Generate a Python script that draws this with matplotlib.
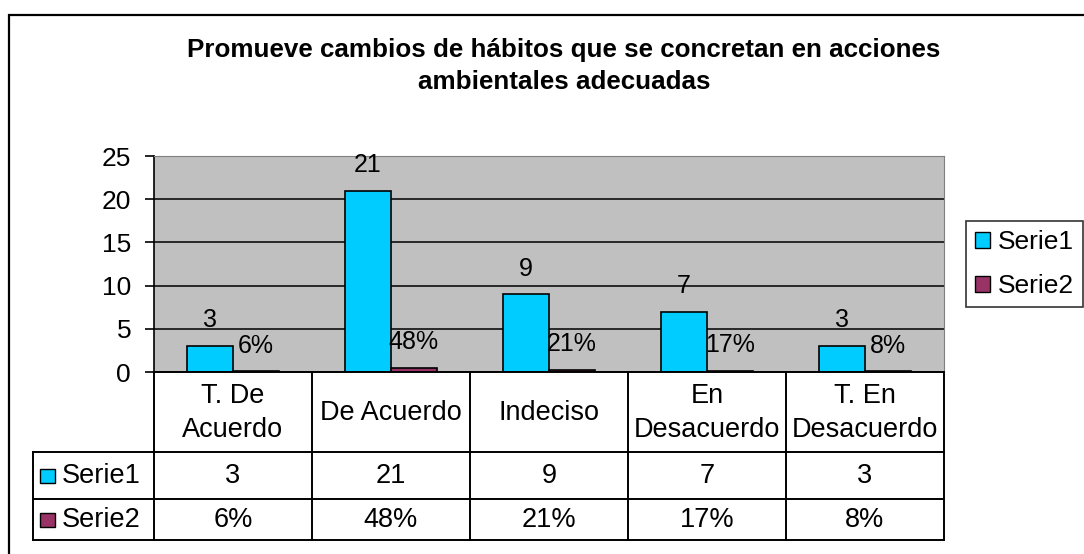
import matplotlib
matplotlib.use("Agg")
import matplotlib.pyplot as plt
from matplotlib.patches import Patch, Rectangle
import numpy as np

# datos del grafico
categorias = ["T. De\nAcuerdo", "De Acuerdo", "Indeciso", "En\nDesacuerdo", "T. En\nDesacuerdo"]
serie1 = [3, 21, 9, 7, 3]
serie2 = [0.06, 0.48, 0.21, 0.17, 0.08]
nombres = ["Serie1", "Serie2"]
yticks = [0, 5, 10, 15, 20, 25]
titulo = "Promueve cambios de hábitos que se concretan en acciones\nambientales adecuadas"

color1 = "#00CCFF"
color2 = "#993366"

W, H = 1084, 554
plt.rcParams['font.family'] = ['Liberation Sans', 'DejaVu Sans']

fig = plt.figure(figsize=(W / 100, H / 100), dpi=100)

# marco exterior del grafico
fig.patches.append(Rectangle((9 / W, -0.05), 1.1, 1 - 15 / H + 0.05, transform=fig.transFigure,
                             fill=False, edgecolor="black", linewidth=1.6))

# area de trazado (pixeles: x 154-944, y 156-372)
ax = fig.add_axes([154 / W, (H - 372) / H, 790 / W, 216 / H])
ax.set_facecolor("#C0C0C0")

x = np.arange(len(categorias))
ancho = 0.29
ax.bar(x - ancho / 2, serie1, ancho, color=color1, edgecolor="black", linewidth=1.2, zorder=3)
ax.bar(x + ancho / 2, serie2, ancho, color=color2, edgecolor="black", linewidth=1.2, zorder=3)

ax.set_xlim(-0.5, len(categorias) - 0.5)
ax.set_ylim(0, 25)
ax.set_yticks(yticks)
ax.tick_params(axis="y", labelsize=19, length=6.5, width=1.2, pad=10, direction="out")
ax.set_xticks([])
ax.grid(axis="y", color="black", linewidth=1.1, zorder=1)
ax.spines["top"].set_color("#808080")
ax.spines["right"].set_color("#808080")
ax.spines["left"].set_linewidth(1.2)
ax.spines["bottom"].set_linewidth(1.4)
ax.spines["bottom"].set_zorder(4)

# etiquetas de datos
for xi, v in zip(x, serie1):
    ax.annotate(str(v), (xi - ancho / 2, v), xytext=(0, 18.5), textcoords="offset points",
                ha="center", va="center", fontsize=18)
for xi, v in zip(x, serie2):
    ax.annotate(f"{v:.0%}", (xi + ancho / 2, v), xytext=(0, 18.5), textcoords="offset points",
                ha="center", va="center", fontsize=18)

fig.text(564 / W, 1 - 66 / H, titulo, ha="center", va="center", fontsize=18.7,
         fontweight="bold", linespacing=1.45)

# tabla de datos bajo el eje
def ya(py):
    return (372 - py) / 216

def xa(px):
    return (px - 154) / 790

filas = [452, 499, 540]
lw_t = 1.4
trans_x = ax.get_xaxis_transform()
for b in np.arange(len(categorias) + 1) - 0.5:
    ax.plot([b, b], [ya(372), ya(540)], color="black", lw=lw_t, transform=trans_x, clip_on=False)
ax.plot([xa(33), xa(33)], [ya(452), ya(540)], color="black", lw=lw_t, transform=ax.transAxes, clip_on=False)
for py in filas:
    ax.plot([xa(33), 1], [ya(py), ya(py)], color="black", lw=lw_t, transform=ax.transAxes, clip_on=False)

for xi, cat in zip(x, categorias):
    ax.text(xi, ya(413), cat, transform=trans_x, ha="center", va="center", fontsize=19.5,
            linespacing=1.36, clip_on=False)
    ax.text(xi, ya(476), str(serie1[xi]), transform=trans_x, ha="center", va="center",
            fontsize=19.5, clip_on=False)
    ax.text(xi, ya(520), f"{serie2[xi]:.0%}", transform=trans_x, ha="center", va="center",
            fontsize=19.5, clip_on=False)

for nombre, col, py in zip(nombres, [color1, color2], [476, 520]):
    ax.add_patch(Rectangle((xa(40), ya(py + 7)), 15 / 790, 14 / 216, transform=ax.transAxes,
                           facecolor=col, edgecolor="black", linewidth=1.0, clip_on=False))
    ax.text(xa(62), ya(py), nombre, transform=ax.transAxes, ha="left", va="center",
            fontsize=19.5, clip_on=False)

handles = [Patch(facecolor=color1, edgecolor="black"), Patch(facecolor=color2, edgecolor="black")]
leg = fig.legend(handles, nombres, loc="upper left", bbox_to_anchor=(966 / W, 1 - 221 / H),
                 fontsize=19, frameon=True, fancybox=False, borderaxespad=0,
                 handlelength=0.55, handleheight=0.55, handletextpad=0.3, labelspacing=0.75,
                 borderpad=0.35)
leg.get_frame().set_edgecolor("black")
leg.get_frame().set_linewidth(1.2)

fig.savefig("out.png", dpi=100)
